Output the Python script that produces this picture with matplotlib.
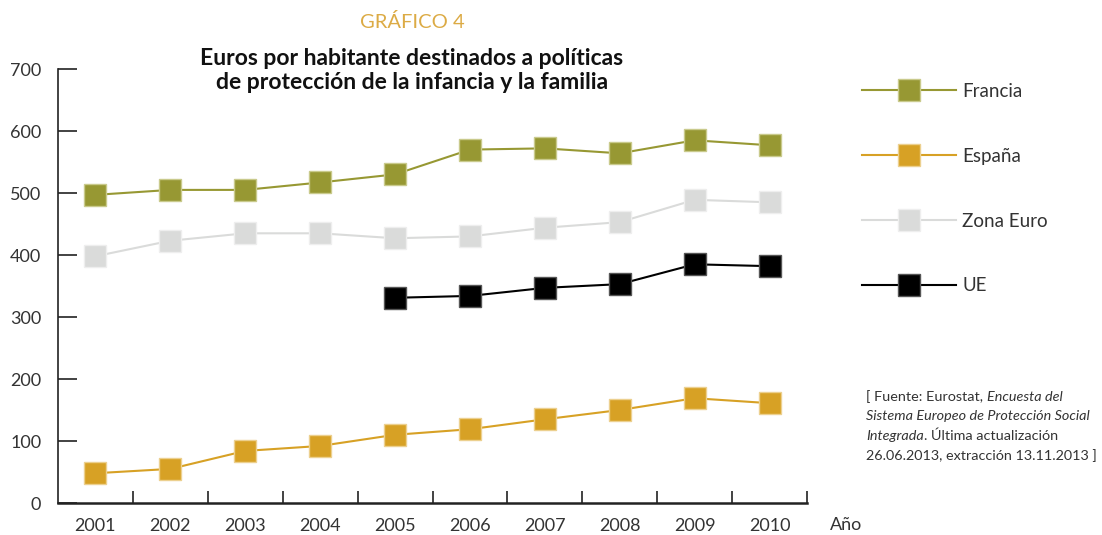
import matplotlib
matplotlib.use('Agg')
import matplotlib.pyplot as plt
import numpy as np

plt.rcParams['font.family'] = ['Lato', 'DejaVu Sans']

years = ['2001', '2002', '2003', '2004', '2005', '2006', '2007', '2008', '2009', '2010']
francia = [497, 505, 505, 517, 530, 570, 572, 564, 585, 577]
espana = [48, 55, 84, 92, 110, 119, 135, 150, 169, 161]
zona_euro = [398, 423, 435, 435, 427, 430, 444, 453, 489, 485]
ue_years = ['2005', '2006', '2007', '2008', '2009', '2010']
ue = [331, 334, 347, 353, 385, 382]

series = [
    ('Francia', years, francia, '#979833', '#c9ca8c'),
    ('España', years, espana, '#d7a125', '#ecd08f'),
    ('Zona Euro', years, zona_euro, '#dadbda', '#eeeeee'),
    ('UE', ue_years, ue, '#000000', '#555555'),
]

fig = plt.figure(figsize=(11.02, 5.35), dpi=100)
ax = fig.add_axes([58 / 1102, 1 - 503 / 535, (807 - 58) / 1102, (503 - 69) / 535])

txt = '#333333'
for name, yrs, vals, col, edge in series:
    x = [years.index(y) for y in yrs]
    ax.plot(x, vals, color=col, lw=1.5, marker='s', ms=15.5, mfc=col,
            mec=edge, mew=1, label=name, zorder=3)

ax.set_xlim(-0.5, 9.5)
ax.set_ylim(0, 700)
ax.set_yticks(range(0, 701, 100))
ax.set_xticks(np.arange(0.5, 9.6, 1))
ax.set_xticklabels([])
ax.set_xticks(range(10), minor=True)
ax.set_xticklabels(years, minor=True)
ax.tick_params(axis='x', which='major', direction='in', length=8.5, width=1.2, color='#222222')
ax.tick_params(axis='x', which='minor', length=0, pad=11, labelsize=13, labelcolor=txt)
ax.tick_params(axis='y', direction='in', length=13.5, width=1.2, pad=12,
               labelsize=13, labelcolor=txt, color='#222222')
for s in ['top', 'right']:
    ax.spines[s].set_visible(False)
ax.spines['left'].set_linewidth(1.2)
ax.spines['bottom'].set_linewidth(1.8)
ax.spines['left'].set_color('#222222')
ax.spines['bottom'].set_color('#222222')

fig.text(846 / 1102, 1 - 525 / 535, 'Año', fontsize=13, color=txt, ha='center', va='center')

fig.text(412 / 1102, 1 - 22 / 535, 'GRÁFICO 4', fontsize=14.5,
         color='#dcab45', ha='center', va='center')
fig.text(412 / 1102, 1 - 70.5 / 535,
         'Euros por habitante destinados a políticas\nde protección de la infancia y la familia',
         fontsize=16.5, fontweight='bold', color='#111111', ha='center', va='center',
         linespacing=1.2)

leg = ax.legend(loc='upper left', bbox_to_anchor=(862 / 1102, 1 - 83 / 535),
                bbox_transform=fig.transFigure, frameon=False, fontsize=13.5,
                handlelength=5.0, handletextpad=0.35, labelspacing=2.55,
                borderpad=0, borderaxespad=0, numpoints=1)
for t in leg.get_texts():
    t.set_color(txt)

# source note, mixed roman / italic
src_lines = [
    [('[ Fuente: Eurostat, ', 'normal'), ('Encuesta del', 'italic')],
    [('Sistema Europeo de Protección Social', 'italic')],
    [('Integrada', 'italic'), ('. Última actualización', 'normal')],
    [('26.06.2013, extracción 13.11.2013 ]', 'normal')],
]
y0 = 397
for i, parts in enumerate(src_lines):
    prev = None
    for s, style in parts:
        if prev is None:
            prev = fig.text(866 / 1102, 1 - (y0 + i * 19.5) / 535, s, fontsize=10.4,
                            style=style, color=txt, ha='left', va='center')
        else:
            prev = ax.annotate(s, xy=(1, 0), xycoords=prev, fontsize=10.4,
                               style=style, color=txt, ha='left', va='bottom',
                               annotation_clip=False)

fig.savefig('out.png', dpi=100)
